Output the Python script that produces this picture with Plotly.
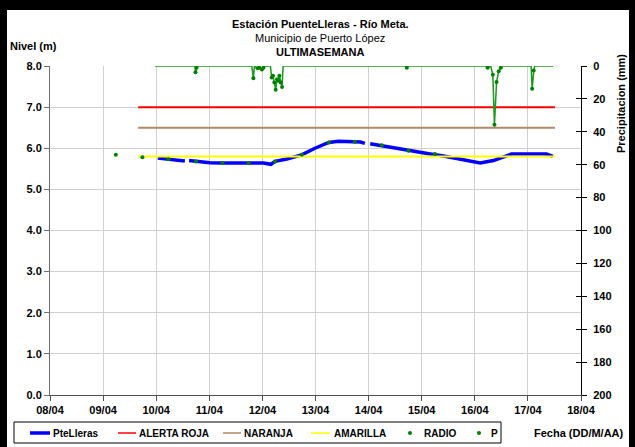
import plotly.graph_objects as go

# ---------------- data (x = day of April, fractional) ----------------
tick_days = [8, 9, 10, 11, 12, 13, 14, 15, 16, 17, 18]
tick_labels = ["08/04", "09/04", "10/04", "11/04", "12/04", "13/04",
               "14/04", "15/04", "16/04", "17/04", "18/04"]

lvl_t = [10.03, 10.23, 10.40, 10.54, None, 10.62, 10.75, 11.01, 11.25, 11.51,
         11.74, 12.02, 12.16, 12.24, 12.46, 12.74, 12.99, 13.25, 13.43, 13.65,
         13.85, 13.93, None, 14.03, 14.25, 14.50, 14.75, 15.00, 15.16, 15.41,
         15.60, 15.78, 15.95, 16.10, 16.35, 16.52, 16.69, 17.04, 17.35, 17.47]
lvl_v = [5.76, 5.73, 5.71, 5.69, None, 5.70, 5.68, 5.65, 5.64, 5.64,
         5.65, 5.64, 5.61, 5.68, 5.74, 5.84, 6.00, 6.14, 6.17, 6.17,
         6.15, 6.12, None, 6.11, 6.06, 6.00, 5.94, 5.88, 5.86, 5.81,
         5.76, 5.72, 5.67, 5.64, 5.70, 5.78, 5.86, 5.86, 5.86, 5.80]

radio_t = [9.24, 9.74, 10.23, 10.75, 11.25, 11.74, 12.24, 12.74, 13.25,
           13.74, 14.25, 14.75, 15.25]
radio_v = [5.84, 5.78, 5.73, 5.68, 5.64, 5.64, 5.68, 5.84, 6.14,
           6.16, 6.07, 5.94, 5.86]

alert_t = [9.66, 17.51]
roja_v = [7.0, 7.0]
naranja_v = [6.5, 6.5]
amarilla_v = [5.8, 5.8]

p_t = [9.98, 10.73, 10.74, 10.76, 10.78, 11.80, 11.83, 11.85, 11.91, 11.94,
       11.99, 12.02, 12.05, 12.15, 12.175, 12.20, 12.225, 12.25, 12.275,
       12.30, 12.32, 12.345, 12.37, 12.39, 14.70, 14.72, 14.74, 16.22,
       16.24, 16.30, 16.34, 16.37, 16.41, 16.45, 16.49, 16.51, 17.06,
       17.08, 17.11, 17.13, 17.15, 17.48]
p_v = [0, 0, 3.8, 1.0, 0, 0, 7.5, 0, 1.4, 1.0,
       2.2, 1.0, 0, 0, 7.0, 6.0, 10.0, 14.5, 8.0,
       9.0, 6.0, 10.0, 12.7, 0, 0, 1.0, 0, 0,
       1.0, 0, 5.3, 35.7, 9.7, 3.2, 1.0, 0, 0,
       13.8, 2.8, 0, 0, 0]

legend_names = ["PteLleras", "ALERTA ROJA", "NARANJA", "AMARILLA", "RADIO", "P"]

FONT = "Liberation Sans, Arial, sans-serif"
GREEN = "#008000"
C_BLUE, C_RED, C_BROWN, C_YEL = "#0000ff", "#ff0000", "#b08a64", "#ffff00"

# plot-area geometry in px (for annotation placement)
L, R, T, B = 50, 581, 66, 395
W, H = R - L, B - T


def px(xp):
    return (xp - L) / W


def py(yp):
    return (B - yp) / H


fig = go.Figure()

fig.add_trace(go.Scatter(x=lvl_t, y=lvl_v, name=legend_names[0], mode="lines",
                         line=dict(color=C_BLUE, width=3.5),
                         connectgaps=False))
fig.add_trace(go.Scatter(x=alert_t, y=roja_v, name=legend_names[1],
                         mode="lines", line=dict(color=C_RED, width=2)))
fig.add_trace(go.Scatter(x=alert_t, y=naranja_v, name=legend_names[2],
                         mode="lines", line=dict(color=C_BROWN, width=2)))
fig.add_trace(go.Scatter(x=alert_t, y=amarilla_v, name=legend_names[3],
                         mode="lines", line=dict(color=C_YEL, width=2)))
fig.add_trace(go.Scatter(x=radio_t, y=radio_v, name=legend_names[4],
                         mode="markers", marker=dict(color=GREEN, size=4)))
fig.add_trace(go.Scatter(x=p_t, y=p_v, name=legend_names[5], mode="lines",
                         yaxis="y2", line=dict(color="#1a9a1a", width=1.5)))
p_tip_t = [t for t, v in zip(p_t, p_v) if v > 0]
p_tip_v = [v for v in p_v if v > 0]
fig.add_trace(go.Scatter(x=p_tip_t, y=p_tip_v, name=legend_names[5],
                         mode="markers", yaxis="y2",
                         marker=dict(color=GREEN, size=4)))
# carrier for the inner half of the right-axis cross ticks
fig.add_trace(go.Scatter(x=[None], y=[None], yaxis="y3", hoverinfo="skip"))

axis_font = dict(family=FONT, size=11, color="black", weight="bold")

fig.update_layout(
    width=635, height=447,
    margin=dict(l=L, r=635 - R, t=T, b=447 - B, pad=0, autoexpand=False),
    paper_bgcolor="white", plot_bgcolor="white",
    font=dict(family=FONT, color="black"),
    showlegend=False,
    xaxis=dict(range=[8, 18], tickvals=tick_days, ticktext=tick_labels,
               showgrid=True, gridcolor="#d0d0d0", gridwidth=1,
               showline=True, linecolor="#505050", linewidth=1,
               ticks="outside", ticklen=5, tickcolor="#505050",
               tickfont=axis_font, zeroline=False, automargin=False),
    yaxis=dict(range=[0, 8], dtick=1, tickformat=".1f",
               showgrid=True, gridcolor="#d0d0d0", gridwidth=1,
               showline=True, linecolor="#707070", linewidth=1,
               ticks="outside", ticklen=5, tickcolor="#707070",
               tickfont=axis_font, zeroline=False, automargin=False),
    yaxis2=dict(range=[200, 0], dtick=20, overlaying="y", side="right",
                showgrid=False, showline=True, linecolor="black", linewidth=1,
                ticks="outside", ticklen=5, tickcolor="black",
                ticklabelstandoff=4,
                tickfont=axis_font, zeroline=False, automargin=False),
    yaxis3=dict(range=[200, 0], dtick=20, overlaying="y", side="right",
                showgrid=False, showline=False, ticks="inside", ticklen=5,
                tickcolor="black", showticklabels=False, zeroline=False,
                automargin=False),
)

annotations = [
    dict(text="<b>Estación PuenteLleras - Río Meta.</b>", x=px(320), y=py(24),
         xanchor="center", size=11),
    dict(text="Municipio de Puerto López", x=px(320), y=py(38),
         xanchor="center", size=11),
    dict(text="<b>ULTIMASEMANA</b>", x=px(320), y=py(52), xanchor="center",
         size=11),
    dict(text="<b>Nivel (m)</b>", x=px(8), y=py(46), xanchor="left", size=11),
    dict(text="<b>Fecha (DD/M/AA)</b>", x=px(626), y=py(433), xanchor="right",
         size=11),
]

# legend drawn as a framed row below the chart
LEG_Y = 433
leg_items = [  # (name, kind, color, swatch x0, swatch x1, text x, width)
    (legend_names[0], "line", C_BLUE, 30, 50, 51, 3.5),
    (legend_names[1], "line", C_RED, 118, 136, 137, 1.5),
    (legend_names[2], "line", C_BROWN, 223, 241, 242, 1.5),
    (legend_names[3], "line", C_YEL, 311, 330, 332, 1.5),
    (legend_names[4], "dot", GREEN, 410, 410, 422, 0),
    (legend_names[5], "dot", GREEN, 479, 479, 489, 0),
]
shapes = [
    # chart-area frame (top, left, right), paper-referenced
    dict(type="rect", xref="paper", yref="paper", x0=px(-5), x1=px(640),
         y0=py(10), y1=py(-5), fillcolor="black", line=dict(width=0),
         layer="above"),
    dict(type="rect", xref="paper", yref="paper", x0=px(-5), x1=px(7),
         y0=py(452), y1=py(-5), fillcolor="black", line=dict(width=0),
         layer="above"),
    dict(type="rect", xref="paper", yref="paper", x0=px(629), x1=px(640),
         y0=py(452), y1=py(-5), fillcolor="black", line=dict(width=0),
         layer="above"),
    dict(type="rect", xref="paper", yref="paper", x0=px(14), x1=px(501),
         y0=py(443), y1=py(422), line=dict(color="black", width=1),
         fillcolor="white", layer="above"),
]
for name, kind, col, x0, x1, tx, lw in leg_items:
    if kind == "line":
        shapes.append(dict(type="line", xref="paper", yref="paper",
                           x0=px(x0), x1=px(x1), y0=py(LEG_Y), y1=py(LEG_Y),
                           line=dict(color=col, width=lw), layer="above"))
    else:
        shapes.append(dict(type="circle", xref="paper", yref="paper",
                           x0=px(x0 - 2), x1=px(x0 + 2), y0=py(LEG_Y + 2),
                           y1=py(LEG_Y - 2), fillcolor=col,
                           line=dict(width=0), layer="above"))
    annotations.append(dict(text="<b>%s</b>" % name, x=px(tx), y=py(LEG_Y),
                            xanchor="left", size=10))

ann_out = []
for a in annotations:
    ann_out.append(dict(text=a["text"], x=a["x"], y=a["y"], xref="paper",
                        yref="paper", xanchor=a["xanchor"], yanchor="middle",
                        showarrow=False,
                        font=dict(family=FONT, color="black", size=a["size"])))
ann_out.append(dict(text="<b>Precipitacion (mm)</b>", x=px(621), y=py(104),
                    xref="paper", yref="paper", xanchor="center",
                    yanchor="middle", textangle=-90, showarrow=False,
                    font=dict(family=FONT, size=11, color="black")))
fig.update_layout(annotations=ann_out, shapes=shapes)

page_js = """
document.body.style.margin='0';
document.body.style.padding='0';
"""

fig.write_html("out.html", config={"displayModeBar": False},
               post_script=page_js)
